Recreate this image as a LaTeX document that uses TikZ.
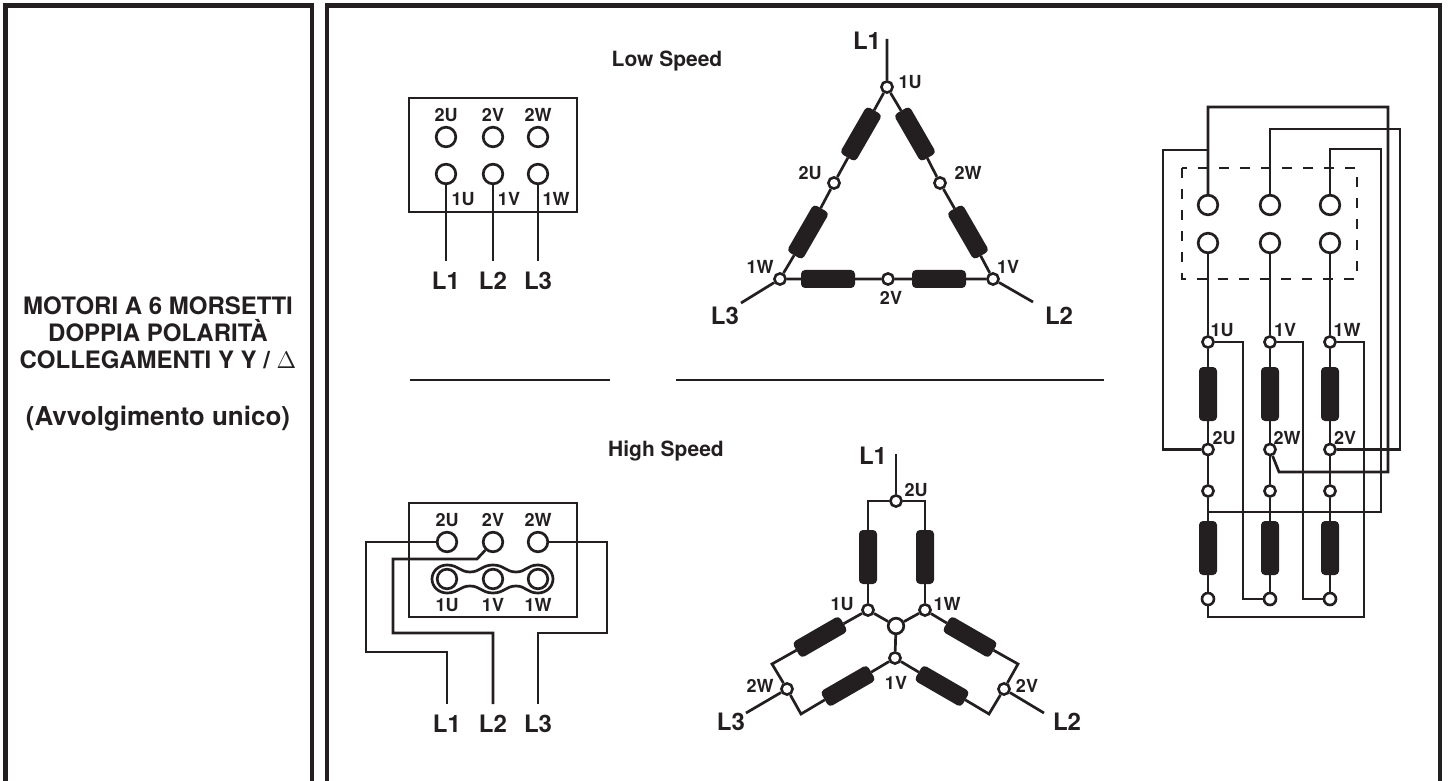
\documentclass[tikz,border=0pt]{standalone}
\usepackage{fontspec}
\setmainfont{TeX Gyre Heros}
\usepackage{amsmath}
\definecolor{ink}{HTML}{231F20}

\tikzset{
	wire/.style={draw=ink, line width=1.35pt},
	frameline/.style={draw=ink, line width=2.3pt},
	term/.style={circle, draw=ink, line width=1.35pt, fill=white, minimum size=9.8pt, inner sep=0pt},
	dot/.style={circle, draw=ink, line width=1.3pt, fill=white, minimum size=5.6pt, inner sep=0pt},
	pill/.style={fill=ink, rounded corners=2pt, minimum width=27pt, minimum height=9pt, inner sep=0pt, outer sep=0pt},
	box/.style={draw=ink, line width=1.35pt, minimum width=84pt, minimum height=57pt, inner sep=0pt},
	tag/.style={font=\bfseries\fontsize{9pt}{10pt}\selectfont, inner sep=0pt, text=ink},
	line tag/.style={font=\bfseries\fontsize{12pt}{13pt}\selectfont, inner sep=0pt, text=ink},
	head/.style={font=\bfseries\fontsize{10.5pt}{12pt}\selectfont, inner sep=0pt, text=ink},
}

\begin{document}
\begin{tikzpicture}[y=-.5pt, x=.5pt]
	\useasboundingbox (0,0) rectangle (1448,781);
	%frames
	\draw[frameline] (5.5,781) -- (5.5,5.5) -- (312,5.5) -- (312,781);
	\draw[frameline] (327,781) -- (327,5.5) -- (1440,5.5) -- (1440,781);
	%title
	\node[align=center, inner sep=0pt, text=ink, font=\bfseries\fontsize{12pt}{13.4pt}\selectfont] (title) at (158,333)
	{
		MOTORI A 6 MORSETTI\\
		DOPPIA POLARITÀ\\
		COLLEGAMENTI Y Y / $\Delta$
	};
	\node[inner sep=0pt, text=ink, font=\bfseries\fontsize{13pt}{14pt}\selectfont] (subtitle) at (158,419) {(Avvolgimento unico)};
	%separators
	\coordinate (sepA) at (410,380);
	\coordinate (sepB) at (610,380);
	\coordinate (sepC) at (676,380);
	\coordinate (sepD) at (1104,380);
	\draw[wire] (sepA) -- (sepB);
	\draw[wire] (sepC) -- (sepD);
	\node[head] (lowHead) at (667,61) {Low Speed};
	\node[head] (highHead) at (666,451) {High Speed};
	
	%low speed box
	\node[box] (lowBox) at (493,155) {};
	\foreach \n/\x/\up/\lo/\t in {1/446/2U/1U/463, 2/493/2V/1V/509, 3/538/2W/1W/556}
	{
		\node[term] (lowUp\n) at (\x,137) {};
		\node[term] (lowLo\n) at (\x,174) {};
		\coordinate (lowEnd\n) at (\x,261);
		\draw[wire] (lowLo\n) -- (lowEnd\n);
		\node[tag] (lowUpTag\n) at (\x,115) {\up};
		\node[tag] (lowLoTag\n) at (\t,199) {\lo};
		\node[line tag] (lowLine\n) at (\x,281) {L\n};
	}
	
	%high speed box
	\node[box] (highBox) at (493,560) {};
	\foreach \n/\x/\up/\lo in {1/447/2U/1U, 2/493/2V/1V, 3/538/2W/1W}
	{
		\node[term] (highUp\n) at (\x,542) {};
		\node[term] (highLo\n) at (\x,579) {};
		\node[tag] (highUpTag\n) at (\x,520) {\up};
		\node[tag] (highLoTag\n) at (\x,605) {\lo};
		\coordinate (highEnd\n) at (\x,704);
		\node[line tag] (highLine\n) at (\x,724) {L\n};
	}
	%link
	\draw[wire] (447,565) .. controls (458,565) and (460,572) .. (470,572)
	.. controls (480,572) and (482,565) .. (493,565)
	.. controls (504,565) and (506,572) .. (516,572)
	.. controls (526,572) and (527,565) .. (538,565)
	.. controls (546,565) and (553,571) .. (553,579)
	.. controls (553,587) and (546,593) .. (538,593)
	.. controls (527,593) and (526,586) .. (516,586)
	.. controls (506,586) and (504,593) .. (493,593)
	.. controls (482,593) and (480,586) .. (470,586)
	.. controls (460,586) and (458,593) .. (447,593)
	.. controls (439,593) and (432,587) .. (432,579)
	.. controls (432,571) and (439,565) .. (447,565) -- cycle;
	\coordinate (hA) at (366,542);
	\coordinate (hB) at (366,652);
	\coordinate (hC) at (447,652);
	\coordinate (hD) at (477,559);
	\coordinate (hE) at (393,559);
	\coordinate (hF) at (393,633);
	\coordinate (hG) at (493,633);
	\coordinate (hH) at (607,542);
	\coordinate (hI) at (607,633);
	\coordinate (hJ) at (538,633);
	\draw[wire] (highUp1) -- (hA) -- (hB) -- (hC) -- (highEnd1);
	\draw[wire] (highUp2) -- (hD) -- (hE) -- (hF) -- (hG) -- (highEnd2);
	\draw[wire] (highUp3) -- (hH) -- (hI) -- (hJ) -- (highEnd3);
	
	%delta
	\node[dot] (triU1) at (887,87) {};
	\node[dot] (triU2) at (834,183) {};
	\node[dot] (triW2) at (940,183) {};
	\node[dot] (triW1) at (780,279) {};
	\node[dot] (triV2) at (888,279) {};
	\node[dot] (triV1) at (993,279) {};
	\node[pill, rotate=60] (triA) at (861,134) {};
	\node[pill, rotate=60] (triB) at (808,232) {};
	\node[pill, rotate=-60] (triC) at (915,134) {};
	\node[pill, rotate=-60] (triD) at (968,232) {};
	\node[pill] (triE) at (828,279) {};
	\node[pill] (triF) at (939,279) {};
	\coordinate (triL1) at (887,39);
	\coordinate (triL3) at (741,303);
	\coordinate (triL2) at (1033,302);
	\draw[wire] (triL1) -- (triU1) -- (triA) -- (triU2) -- (triB) -- (triW1) -- (triE) -- (triV2) -- (triF) -- (triV1) -- (triD) -- (triW2) -- (triC) -- (triU1);
	\draw[wire] (triW1) -- (triL3);
	\draw[wire] (triV1) -- (triL2);
	\foreach \txt/\x/\y in {1U/910/82, 2U/810/173, 2W/968/173, 1W/760/267, 1V/1008/267, 2V/891/298}
	\node[tag] (tri\txt) at (\x,\y) {\txt};
	\node[line tag] (triTagA) at (867,41) {L1};
	\node[line tag] (triTagB) at (1059,316) {L2};
	\node[line tag] (triTagC) at (725,316) {L3};
	
	%double star
	\node[dot] (starTop) at (896,501) {};
	\node[dot] (starU) at (868,610) {};
	\node[dot] (starW) at (925,610) {};
	\node[dot] (starV) at (895,658) {};
	\node[term, minimum size=7.8pt] (starMid) at (896,626) {};
	\node[dot] (starL) at (787,689) {};
	\node[dot] (starR) at (1004,689) {};
	\node[pill, minimum width=27pt, rotate=90] (starA) at (868,557) {};
	\node[pill, minimum width=27pt, rotate=90] (starB) at (925,557) {};
	\node[pill, rotate=30] (starC) at (820,637) {};
	\node[pill, rotate=30] (starD) at (848,686) {};
	\node[pill, rotate=-30] (starE) at (970,637) {};
	\node[pill, rotate=-30] (starF) at (942,686) {};
	\coordinate (sL1) at (896,454);
	\coordinate (sTL) at (868,501);
	\coordinate (sTR) at (925,501);
	\coordinate (sLa) at (772,664);
	\coordinate (sLb) at (801,714);
	\coordinate (sRa) at (1018,664);
	\coordinate (sRb) at (989,714);
	\coordinate (sL3) at (746,713);
	\coordinate (sL2) at (1044,713);
	\draw[wire] (sL1) -- (starTop);
	\draw[wire] (starTop) -- (sTL) -- (starA) -- (starU);
	\draw[wire] (starTop) -- (sTR) -- (starB) -- (starW);
	\draw[wire] (starU) -- (starMid);
	\draw[wire] (starW) -- (starMid);
	\draw[wire] (starV) -- (starMid);
	\draw[wire] (starU) -- (starC) -- (sLa) -- (starL) -- (sLb) -- (starD) -- (starV);
	\draw[wire] (starW) -- (starE) -- (sRa) -- (starR) -- (sRb) -- (starF) -- (starV);
	\draw[wire] (starL) -- (sL3);
	\draw[wire] (starR) -- (sL2);
	\foreach \txt/\x/\y in {2U/916/490, 1U/842/604, 1W/947/604, 1V/896/683, 2W/760/686, 2V/1027/686}
	\node[tag] (star\txt) at (\x,\y) {\txt};
	\node[line tag] (starTagA) at (873,456) {L1};
	\node[line tag] (starTagB) at (1067,722) {L2};
	\node[line tag] (starTagC) at (731,722) {L3};
	
	%wiring plan
	\draw[wire, dash pattern=on 5pt off 5.5pt] (1182,168) rectangle (1357,279);
	\foreach \c/\x in {a/1208,b/1270,c/1330}
	{
		\node[term] (\c Top) at (\x,205) {};
		\node[term] (\c Low) at (\x,243) {};
		\node[dot] (\c One) at (\x,342) {};
		\node[pill, rotate=90] (\c Upper) at (\x,394) {};
		\node[dot] (\c Two) at (\x,449.5) {};
		\node[dot] (\c Mid) at (\x,491) {};
		\node[pill, rotate=90] (\c Under) at (\x,548) {};
		\node[dot, minimum size=6pt] (\c End) at (\x,599) {};
		\draw[wire] (\c Low) -- (\c One) -- (\c Upper) -- (\c Two) -- (\c Mid) -- (\c Under) -- (\c End);
	}
	\coordinate (pA) at (1208,107);
	\coordinate (pB) at (1388,107);
	\coordinate (pC) at (1388,472);
	\coordinate (pD) at (1279,472);
	\coordinate (pE) at (1208,150);
	\coordinate (pF) at (1163,150);
	\coordinate (pG) at (1163,449.5);
	\coordinate (pH) at (1270,129);
	\coordinate (pI) at (1400,129);
	\coordinate (pJ) at (1400,449.5);
	\coordinate (pK) at (1330,149);
	\coordinate (pL) at (1381,149);
	\coordinate (pM) at (1381,512);
	\coordinate (pN) at (1208,512);
	\coordinate (pO) at (1243,342);
	\coordinate (pP) at (1243,599);
	\coordinate (pQ) at (1303,342);
	\coordinate (pR) at (1303,599);
	\coordinate (pS) at (1364,342);
	\coordinate (pT) at (1364,617);
	\coordinate (pU) at (1208,617);
	\draw[wire] (aTop) -- (pA) -- (pB) -- (pC) -- (pD) -- (bTwo);
	\draw[wire] (pE) -- (pF) -- (pG) -- (aTwo);
	\draw[wire] (bTop) -- (pH) -- (pI) -- (pJ) -- (cTwo);
	\draw[wire] (cTop) -- (pK) -- (pL) -- (pM) -- (pN);
	\draw[wire] (aOne) -- (pO) -- (pP) -- (bEnd);
	\draw[wire] (bOne) -- (pQ) -- (pR) -- (cEnd);
	\draw[wire] (cOne) -- (pS) -- (pT) -- (pU) -- (aEnd);
	\foreach \txt/\x/\y in {1U/1222/330, 1V/1285/330, 1W/1347/330, 2U/1224/438, 2W/1287/438, 2V/1345/438}
	\node[tag] (plan\txt) at (\x,\y) {\txt};
\end{tikzpicture}
\end{document}
